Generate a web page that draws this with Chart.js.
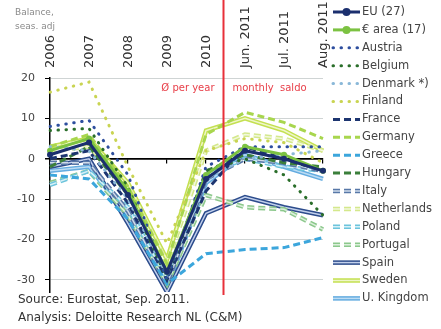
<!DOCTYPE html>
<html>
<head>
<meta charset="utf-8">
<script src="https://cdn.jsdelivr.net/npm/chart.js@4.4.0/dist/chart.umd.min.js"></script>
<style>
  html, body { margin: 0; padding: 0; background: #fff; }
  #grafico { display: block; }
</style>
</head>
<body>
<canvas id="grafico" width="441" height="329"></canvas>
<script>
// periodos (anos = media anual, depois saldo mensal)
const periodos = ['2006', '2007', '2008', '2009', '2010', 'Jun. 2011', 'Jul. 2011', 'Aug. 2011']
const yTicks = [20, 10, 0, -10, -20, -30]

const eu27        = [1, 4, -9, -28, -5, 2, 0, -3]
const euroArea    = [2, 5, -8, -28, -4, 3, 1, -3]
const austria     = [8, 9.5, -4, -30, -2, 3, 3, 3]
const belgium     = [7, 7.5, -7, -30, -3, 0, -4, -14]
const denmark     = [3, 2, -10, -29, -5, 0, 1, 2]
const finland     = [16.5, 19, -2, -21, 2, 5, 4, -1]
const france      = [0, 2, -11, -30, -8, 3, 0, -3]
const germany     = [3, 6, -7, -26, 6, 11.5, 9, 5]
const greece      = [-4, -5, -15, -31, -23.5, -22.5, -22, -19.5]
const hungary     = [-2, 3, -9, -29, -3, 1, -1, -2]
const italy       = [-1, -1, -13, -31, -5, 0, -1, -3]
const netherlands = [2, 3, -7, -26, 2, 6, 5, 2]
const poland      = [-6.5, -3, -12, -30, -4, 0, -2, -3]
const portugal    = [-6, -3, -14, -31, -9, -12, -12.5, -17.5]
const spain       = [-2, 0, -16, -33, -13.5, -9.5, -12, -14]
const sweden      = [3, 5, -6, -25, 7, 10, 7, 2]
const uk          = [-3, -2, -14, -32, -6, 1, -2, -5]

const nomes = ['EU (27)', '€ area (17)', 'Austria', 'Belgium', 'Denmark *)', 'Finland', 'France', 'Germany', 'Greece',
  'Hungary', 'Italy', 'Netherlands', 'Poland', 'Portugal', 'Spain', 'Sweden', 'U. Kingdom']
const series = [eu27, euroArea, austria, belgium, denmark, finland, france, germany, greece,
  hungary, italy, netherlands, poland, portugal, spain, sweden, uk]

// estilos: cor, tipo de linha, cor interna (linha dupla)
const cores = ['#1b2f6e', '#7cc242', '#2d4e9e', '#2a6e2a', '#8ab8d8', '#c9d452', '#1d3570', '#a8d64e', '#3ca6dc',
  '#3b7f3b', '#5878a8', '#d4e88c', '#6cc4dc', '#8cc88c', '#2c4c8c', '#c4e050', '#64ace0']
const tipos = ['solid', 'solid', 'dot', 'dot', 'dot', 'dot', 'dash', 'dash', 'dash',
  'dash', 'dash', 'dash', 'dash', 'dash', 'solid', 'solid', 'solid']
const internas = [null, null, null, null, null, null, null, null, null,
  null, '#d0dbea', '#f2f8dc', '#d6f0f7', '#dcefdc', '#c2d0ec', '#eef6c8', '#bcdcf4']

function dashDe(tipo) {
  if (tipo == 'dot') return [0.5, 7.5]
  if (tipo == 'dash') return [7, 4]
  return []
}

const datasets = []
series.forEach((dados, i) => {
  const dash = dashDe(tipos[i])
  const temPonto = i < 2
  if (internas[i]) {
    datasets.push({
      label: nomes[i] + '_in',
      inner: true,
      data: dados,
      borderColor: internas[i],
      borderWidth: 1.5,
      borderDash: dash,
      pointRadius: 0,
      fill: false,
      tension: 0
    })
  }
  datasets.push({
    label: nomes[i],
    data: dados,
    borderColor: cores[i],
    backgroundColor: cores[i],
    borderWidth: internas[i] ? 4.5 : 3,
    borderDash: dash,
    borderCapStyle: tipos[i] == 'dot' ? 'round' : 'butt',
    innerColor: internas[i],
    pointRadius: temPonto ? 3 : 0,
    pointBackgroundColor: cores[i],
    pointBorderWidth: 0,
    fill: false,
    tension: 0
  })
})

const fonte = '"DejaVu Sans", "Liberation Sans", sans-serif'

const extras = {
  id: 'extras',
  afterDatasetsDraw(chart) {
    const ctx = chart.ctx
    const x = chart.scales.x
    const px = x.getPixelForValue(4.5) - 2
    ctx.save()
    ctx.strokeStyle = '#e8303a'
    ctx.lineWidth = 2
    ctx.beginPath()
    ctx.moveTo(px, 0)
    ctx.lineTo(px, 295)
    ctx.stroke()
    ctx.fillStyle = '#e8404a'
    ctx.font = '10px ' + fonte
    ctx.textBaseline = 'middle'
    ctx.textAlign = 'right'
    ctx.fillText('Ø per year', px - 9, 88)
    ctx.textAlign = 'left'
    ctx.fillText('monthly  saldo', px + 9, 88)
    ctx.restore()
  },
  afterDraw(chart) {
    const ctx = chart.ctx
    const x = chart.scales.x
    ctx.save()
    ctx.textBaseline = 'middle'
    ctx.textAlign = 'left'

    // rotulos do eixo x, na vertical
    ctx.fillStyle = '#333'
    ctx.font = '13px ' + fonte
    periodos.forEach((p, i) => {
      ctx.save()
      ctx.translate(x.getPixelForValue(i) + 1, chart.chartArea.top - 10)
      ctx.rotate(-Math.PI / 2)
      ctx.fillText(p, 0, 0)
      ctx.restore()
    })

    ctx.fillStyle = '#8a8a8a'
    ctx.font = '9px ' + fonte
    ctx.fillText('Balance,', 15, 13)
    ctx.fillText('seas. adj', 15, 27)

    ctx.fillStyle = '#333'
    ctx.font = '12px ' + fonte
    ctx.fillText('Source: Eurostat, Sep. 2011.', 18, 300)
    ctx.fillText('Analysis: Deloitte Research NL (C&M)', 18, 318)

    // legenda
    let n = 0
    chart.data.datasets.forEach(ds => {
      if (ds.inner) return
      const y = 12 + n * 17.9
      n++
      ctx.setLineDash(ds.borderDash)
      ctx.lineCap = ds.borderCapStyle
      ctx.strokeStyle = ds.borderColor
      ctx.lineWidth = ds.borderWidth
      ctx.beginPath()
      ctx.moveTo(333, y)
      ctx.lineTo(360, y)
      ctx.stroke()
      if (ds.innerColor) {
        ctx.strokeStyle = ds.innerColor
        ctx.lineWidth = 1.5
        ctx.beginPath()
        ctx.moveTo(333, y)
        ctx.lineTo(360, y)
        ctx.stroke()
      }
      if (ds.pointRadius) {
        ctx.setLineDash([])
        ctx.fillStyle = ds.borderColor
        ctx.beginPath()
        ctx.arc(346.5, y, 4, 0, Math.PI * 2)
        ctx.fill()
      }
      ctx.setLineDash([])
      ctx.fillStyle = '#444'
      ctx.font = '11.5px ' + fonte
      ctx.fillText(ds.label, 362, y)
    })
    ctx.restore()
  }
}

new Chart(document.getElementById('grafico'), {
  type: 'line',
  data: { labels: periodos, datasets: datasets },
  options: {
    responsive: false,
    animation: false,
    devicePixelRatio: 1,
    layout: { padding: { left: 0, right: 118, top: 0, bottom: 37 } },
    plugins: { legend: { display: false }, tooltip: { enabled: false } },
    elements: { point: { hitRadius: 0 } },
    scales: {
      x: {
        type: 'category',
        position: 'top',
        grid: { display: false },
        border: { display: false },
        ticks: { display: false },
        afterFit(s) { s.height = 78 }
      },
      x2: {
        type: 'category',
        labels: periodos,
        position: { y: 0 },
        grid: { drawOnChartArea: false, tickLength: 4, color: '#000', lineWidth: 1.2 },
        border: { color: '#000', width: 1.5 },
        ticks: { display: false }
      },
      y: {
        min: -33,
        max: 20,
        afterBuildTicks(s) {
          s.ticks = yTicks.map(v => ({ value: v }))
        },
        grid: {
          color: ctx => ctx.tick && ctx.tick.value == 0 ? '#000' : '#cfd4d4',
          lineWidth: ctx => ctx.tick && ctx.tick.value == 0 ? 1.5 : 1,
          tickColor: '#000',
          tickLength: 5
        },
        border: { color: '#000', width: 1.5 },
        ticks: {
          padding: 10,
          color: '#444',
          font: { family: fonte, size: 11 }
        },
        afterFit(s) { s.width = 50 }
      }
    }
  },
  plugins: [extras]
})
</script>
</body>
</html>
